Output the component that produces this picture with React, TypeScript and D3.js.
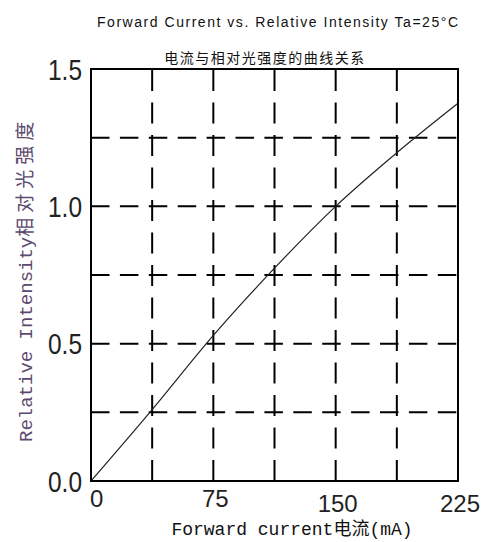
import React from "react";
import * as d3 from "d3";

// 正向电流 vs 相对光强 (Ta=25°C)
const CURRENT = [0, 37.5, 75, 112.5, 150, 187.5, 225];
const INTENSITY = [0, 0.26, 0.53, 0.775, 1.0, 1.195, 1.375];
const X_TICKS = [0, 75, 150, 225];
const Y_TICKS = [0, 0.5, 1.0, 1.5];
const X_GRID = [37.5, 75, 112.5, 150, 187.5];
const Y_GRID = [0.25, 0.5, 0.75, 1.0, 1.25];

const TITLE_EN = "Forward Current vs. Relative Intensity  Ta=25°C";
const TITLE_CN = "电流与相对光强度的曲线关系";
const X_LABEL = "Forward current电流(mA)";
const Y_LABEL_EN = "Relative Intensity";
const Y_LABEL_CN = "相对光强度";

const W = 491, H = 542;
const margin = { top: 69, right: 33, bottom: 61, left: 91 };

export default function App() {
  const x = d3.scaleLinear().domain([0, 225]).range([margin.left, W - margin.right]);
  const y = d3.scaleLinear().domain([0, 1.5]).range([H - margin.bottom, margin.top]);

  const line = d3
    .line<number>()
    .x((_, i) => x(CURRENT[i]))
    .y((d) => y(d))
    .curve(d3.curveMonotoneX);

  const mono = "'Liberation Mono', 'Noto Sans CJK SC', monospace";
  const sans = "'Liberation Sans', Arial, sans-serif";

  return (
    <svg
      width={W}
      height={H}
      style={{ position: "absolute", left: 0, top: 0, background: "#fff" }}
    >
      {/* 标题 */}
      <text
        x={97}
        y={27}
        textLength={361}
        lengthAdjust="spacing"
        style={{ fontFamily: sans, fontSize: 14, fill: "#111" }}
      >
        {TITLE_EN}
      </text>
      <text
        x={265}
        y={63}
        textAnchor="middle"
        style={{ fontFamily: "'Noto Sans CJK SC', sans-serif", fontSize: 14, letterSpacing: 1.5, fill: "#111" }}
      >
        {TITLE_CN}
      </text>

      {/* 网格 */}
      <g stroke="#000" strokeWidth={2} fill="none">
        {Y_GRID.map((v) => (
          <line
            key={"h" + v}
            x1={x(0)}
            x2={x(225)}
            y1={y(v)}
            y2={y(v)}
            strokeDasharray="18.5,10.4"
          />
        ))}
        {X_GRID.map((v) => (
          <line
            key={"v" + v}
            x1={x(v)}
            x2={x(v)}
            y1={y(0)}
            y2={y(1.5)}
            strokeDasharray="21,11.5"
          />
        ))}
      </g>

      {/* 曲线 */}
      <path d={line(INTENSITY) || ""} fill="none" stroke="#222" strokeWidth={1.2} />

      {/* 边框 */}
      <rect
        x={x(0)}
        y={y(1.5)}
        width={x(225) - x(0)}
        height={y(0) - y(1.5)}
        fill="none"
        stroke="#000"
        strokeWidth={2}
      />

      {/* Y 轴刻度 */}
      {Y_TICKS.map((v) => (
        <text
          key={"yt" + v}
          x={x(0) - 9}
          y={y(v) + 10.5}
          textAnchor="end"
          textLength={34}
          lengthAdjust="spacingAndGlyphs"
          style={{ fontFamily: sans, fontSize: 29, fill: "#222" }}
        >
          {v.toFixed(1)}
        </text>
      ))}

      {/* X 轴刻度 */}
      {X_TICKS.map((v, i) => (
        <text
          key={"xt" + v}
          x={i === 0 ? x(v) - 1 : x(v) + 2}
          y={H - margin.bottom + (i >= 2 ? 31 : 26)}
          textAnchor={i === 0 ? "start" : "middle"}
          style={{ fontFamily: sans, fontSize: 24, fill: "#222" }}
        >
          {v}
        </text>
      ))}

      {/* 轴标题 */}
      <text
        x={292}
        y={535}
        textAnchor="middle"
        style={{ fontFamily: mono, fontSize: 18, fill: "#111" }}
      >
        {X_LABEL}
      </text>
      <text
        transform={`translate(32,${y(0) - 39}) rotate(-90)`}
        style={{ fontFamily: mono, fontSize: 19, fill: "#5c4a6e" }}
      >
        {Y_LABEL_EN}
        <tspan style={{ fontFamily: "'Noto Sans CJK SC', sans-serif", letterSpacing: 5 }}>
          {Y_LABEL_CN}
        </tspan>
      </text>
    </svg>
  );
}
